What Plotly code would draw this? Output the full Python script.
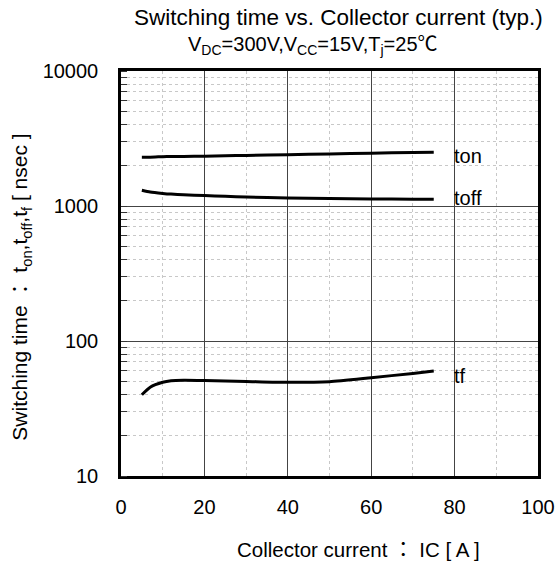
import numpy as np
import plotly.graph_objects as go

# Collector current [A]
ic = [5, 7, 10, 12, 15, 20, 25, 30, 40, 50, 60, 70, 75]
# Switching times [nsec]
ton = [2300, 2300, 2320, 2330, 2330, 2340, 2360, 2370, 2400, 2430, 2460, 2490, 2500]
toff = [1310, 1270, 1240, 1225, 1210, 1195, 1180, 1165, 1145, 1135, 1128, 1122, 1120]
tf = [40, 45.5, 49.5, 50.8, 51.2, 51.0, 50.6, 50.2, 49.4, 50.0, 53.5, 57.5, 60]

series = [("ton", ton, -4), ("toff", toff, 1), ("tf", tf, -5)]

FONT = "Liberation Sans, Arial, Noto Sans CJK JP"

fig = go.Figure()
for name, vals, shift in series:
    fig.add_trace(go.Scatter(x=ic, y=vals, mode="lines", name=name,
                             line=dict(color="black", width=3, shape="spline", smoothing=0.6),
                             showlegend=False, hoverinfo="skip"))
    fig.add_annotation(x=79.3, y=np.log10(vals[-1]), xref="x", yref="y", text=name,
                       showarrow=False, xanchor="left", yanchor="middle", yshift=shift,
                       font=dict(family=FONT, size=20, color="black"))

texts = [
    ("Switching time vs. Collector current (typ.)", 0.5204, 1.131, 0, 22.5),
    ("V<sub>DC</sub>=300V,V<sub>CC</sub>=15V,T<sub>j</sub>=25℃", 0.4604, 1.063, 0, 20),
    ("Collector current ： IC [ A ]", 0.57, -0.1827, 0, 20.5),
    ("Switching time ： t<sub>on</sub>,t<sub>off</sub>,t<sub>f</sub> [ nsec ]", -0.2398, 0.465, -90, 21),
]
for txt, x, y, ang, sz in texts:
    fig.add_annotation(text=txt, x=x, y=y, xref="paper", yref="paper", showarrow=False,
                       xanchor="center", yanchor="middle", textangle=ang,
                       font=dict(family=FONT, size=sz, color="black"))

fig.update_layout(
    width=555, height=562,
    margin=dict(l=121, r=17, t=71, b=86, autoexpand=False),
    paper_bgcolor="white", plot_bgcolor="white",
    font=dict(family=FONT, color="black"),
)

fig.update_xaxes(
    range=[0, 100], dtick=20, tick0=0,
    showline=True, mirror=True, linecolor="black", linewidth=2.5,
    showgrid=True, gridcolor="#444444", gridwidth=1,
    ticks="", tickfont=dict(size=20), ticklabelstandoff=11,
    zeroline=False, automargin=False,
    minor=dict(dtick=10, showgrid=True, gridcolor="#c8c8c8", griddash="dot", gridwidth=1),
)
fig.update_yaxes(
    type="log", range=[1, 4],
    showline=True, mirror=True, linecolor="black", linewidth=2.5,
    showgrid=True, gridcolor="#444444", gridwidth=1,
    ticks="", tickfont=dict(size=20), ticklabelstandoff=16, automargin=False,
    tickvals=[10, 100, 1000, 10000], ticktext=["10", "100", "1000", "10000"],
    minor=dict(dtick="D1", showgrid=True, gridcolor="#c8c8c8", griddash="dot", gridwidth=1,
               ticks="inside", ticklen=6, tickcolor="#333333"),
)

fig.write_html("out.html")
